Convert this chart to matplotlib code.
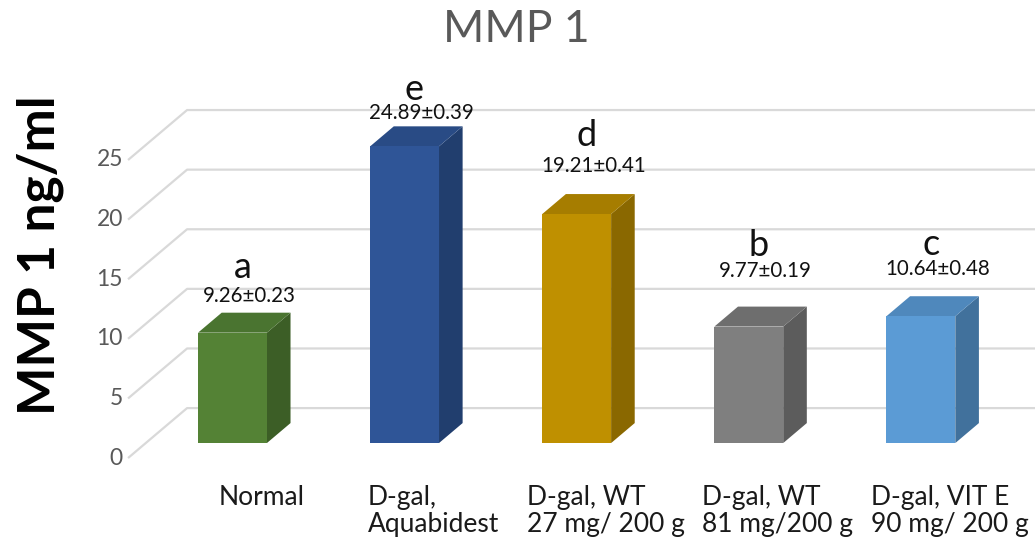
import matplotlib.pyplot as plt
from matplotlib.patches import Polygon

# MMP 1 level per treatment group
groups = ['Normal', 'D-gal,\nAquabidest', 'D-gal, WT\n27 mg/ 200 g',
          'D-gal, WT\n81 mg/200 g', 'D-gal, VIT E\n90 mg/ 200 g']
mmp1_mean = [9.26, 24.89, 19.21, 9.77, 10.64]
mmp1_sd = [0.23, 0.39, 0.41, 0.19, 0.48]
sig_letters = ['a', 'e', 'd', 'b', 'c']
y_ticks = [0, 5, 10, 15, 20, 25]

# face colours: front, side, top
front_colors = ['#548235', '#2F5597', '#BF9000', '#7F7F7F', '#5B9BD5']
side_colors = ['#3C5E26', '#213E6E', '#8A6800', '#5C5C5C', '#41719C']
top_colors = ['#4A7430', '#294B85', '#A67D00', '#6E6E6E', '#4F88BC']

# oblique depth of the floor (x in category units, y in value units)
DX = 0.343
DV = 4.19
BAR_W = 0.40
D_FRONT, D_BACK = 0.30, 0.70

# extra lift of each letter / value label above its bar
letter_lift = [5.84, 5.14, 6.96, 7.18, 6.39]
value_lift = [4.33, 4.05, 5.29, 5.92, 5.22]

plt.rcParams['font.family'] = ['Lato', 'DejaVu Sans']

fig = plt.figure(figsize=(10.35, 5.44), dpi=100)
ax = fig.add_axes([0, 0, 1, 1])
ax.set_xlim(-1.248, 4.766)
ax.set_ylim(-7.21, 38.42)
ax.axis('off')

grid_color = '#D9D9D9'
x_wall = -0.504
for t in y_ticks:
    ax.plot([x_wall, x_wall + DX, 5.0], [t, t + DV, t + DV],
            color=grid_color, lw=1.6, zorder=1, solid_capstyle='butt')
    ax.text(x_wall - 0.03, t, str(t), ha='right', va='center',
            fontsize=16.5, color='#595959')


def bar3d(xc, value, front, side, top):
    left = xc - BAR_W / 2
    right = xc + BAR_W / 2
    f0x, f0y = D_FRONT * DX, D_FRONT * DV
    b0x, b0y = D_BACK * DX, D_BACK * DV
    front_face = [(left + f0x, f0y), (right + f0x, f0y),
                  (right + f0x, value + f0y), (left + f0x, value + f0y)]
    side_face = [(right + f0x, f0y), (right + b0x, b0y),
                 (right + b0x, value + b0y), (right + f0x, value + f0y)]
    top_face = [(left + f0x, value + f0y), (right + f0x, value + f0y),
                (right + b0x, value + b0y), (left + b0x, value + b0y)]
    ax.add_patch(Polygon(side_face, closed=True, fc=side, ec='none', zorder=3))
    ax.add_patch(Polygon(top_face, closed=True, fc=top, ec='none', zorder=3))
    ax.add_patch(Polygon(front_face, closed=True, fc=front, ec='none', zorder=4))


for i, v in enumerate(mmp1_mean):
    bar3d(i, v, front_colors[i], side_colors[i], top_colors[i])
    ax.text(i + 0.16, v + letter_lift[i], sig_letters[i], ha='center',
            va='baseline', fontsize=26, color='#111111', zorder=5)
    ax.text(i + 0.20, v + value_lift[i], f'{v:.2f}\u00b1{mmp1_sd[i]:.2f}',
            ha='center', va='center', fontsize=14.8, color='#111111', zorder=5)
    ax.text(i + 0.27, -2.25, groups[i], ha='center', va='top',
            multialignment='left', fontsize=19, linespacing=1.12,
            color='#1A1A1A')

fig.text(516 / 1035, 1 - 30 / 544, 'MMP 1', ha='center', va='center',
         fontsize=32, color='#595959')
fig.text(40 / 1035, 1 - 255 / 544, 'MMP 1 ng/ml', ha='center', va='center',
         rotation=90, fontsize=37, fontweight='bold', color='black')

fig.savefig('out.png', dpi=100, facecolor='white')
